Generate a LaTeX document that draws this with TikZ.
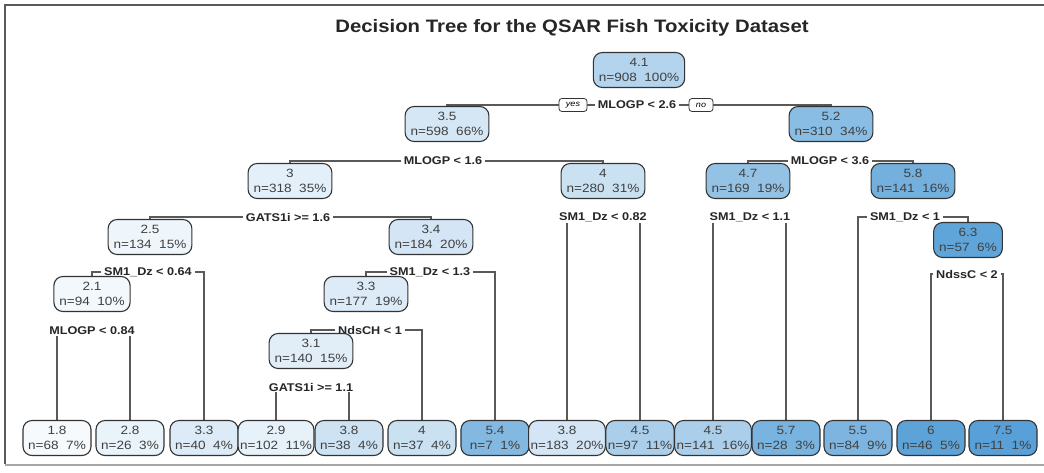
\documentclass[tikz,border=0pt]{standalone}
\usepackage{fontspec}
\setmainfont{Liberation Sans}
\newfontfamily\nfont[FakeStretch=1.13]{Liberation Sans}
\newfontfamily\bfont[FakeStretch=1.13]{Liberation Sans Bold}
\definecolor{tb}{RGB}{88,160,215}
\pgfdeclarelayer{back}
\pgfdeclarelayer{bg}
\pgfsetlayers{back,bg,main}
\tikzset{
  tnode/.style={draw=black!80, line width=1.1pt, rounded corners=9pt, minimum height=35pt,
    inner xsep=5.5pt, inner ysep=2pt, align=center, text=black!75,
    font=\nfont\fontsize{12}{15}\selectfont},
  tn/.style={tnode, fill=tb!#1!white},
  lf/.style={tnode, fill=tb!#1!white, inner xsep=2pt, minimum width=68pt},
  slab/.style={fill=white, inner xsep=3pt, inner ysep=1pt, text=black!85,
    font=\bfont\fontsize{11.2}{13}\selectfont},
  yn/.style={draw=black!80, line width=0.8pt, rounded corners=3pt, fill=white,
    font=\nfont\fontsize{8}{9}\selectfont\itshape, minimum height=13pt, inner ysep=0pt, inner xsep=7pt},
  conn/.style={draw=black!65, line width=1.4pt}
}
\begin{document}
\begin{tikzpicture}[x=1pt,y=-1pt]
\useasboundingbox (0,0) rectangle (1044,472);
\begin{pgfonlayer}{back}
\fill[white] (0,0) rectangle (1044,472);
\end{pgfonlayer}
% frame
\draw[black!65, line width=2.5pt] (1044,5) -- (5,5) -- (5,464);
\draw[black!35, line width=1.5pt] (5,465) -- (1044,465);
% title
\node[font=\bfont\fontsize{18}{20}\selectfont, text=black!85] (title) at (572,28) {Decision Tree for the QSAR Fish Toxicity Dataset};
% inner nodes and split labels
\node[tn=45] (n0) at (639,70) {4.1\\n=908\ \ 100\%};
\node[slab] (s0) at (637,105) {MLOGP < 2.6};
\node[yn] (yes) at (573,105) {yes};
\node[yn] (no) at (701,105) {no};
\node[tn=25] (n1) at (447,124) {3.5\\n=598\ \ 66\%};
\node[tn=70] (n2) at (831,124) {5.2\\n=310\ \ 34\%};
\node[slab] (s1) at (443,161) {MLOGP < 1.6};
\node[slab] (s2) at (830,161) {MLOGP < 3.6};
\node[tn=16] (n3) at (290,181) {3\\n=318\ \ 35\%};
\node[tn=32] (n4) at (603,181) {4\\n=280\ \ 31\%};
\node[tn=64] (n5) at (748,181) {4.7\\n=169\ \ 19\%};
\node[tn=83] (n6) at (913,181) {5.8\\n=141\ \ 16\%};
\node[slab] (s3) at (288,217) {GATS1i >= 1.6};
\node[slab] (s4) at (603,217) {SM1\_Dz < 0.82};
\node[slab] (s5) at (750,217) {SM1\_Dz < 1.1};
\node[slab] (s6) at (905,217) {SM1\_Dz < 1};
\node[tn=10] (n7) at (150,237) {2.5\\n=134\ \ 15\%};
\node[tn=26] (n8) at (431,237) {3.4\\n=184\ \ 20\%};
\node[tn=95] (n9) at (968,240) {6.3\\n=57\ \ 6\%};
\node[slab] (s7) at (148,272) {SM1\_Dz < 0.64};
\node[slab] (s8) at (430,272) {SM1\_Dz < 1.3};
\node[slab] (s9) at (967,274) {NdssC < 2};
\node[tn=7] (n10) at (92,294) {2.1\\n=94\ \ 10\%};
\node[tn=21] (n11) at (366,294) {3.3\\n=177\ \ 19\%};
\node[slab] (s10) at (92,331) {MLOGP < 0.84};
\node[slab] (s11) at (370,330) {NdsCH < 1};
\node[tn=18] (n12) at (311,351) {3.1\\n=140\ \ 15\%};
\node[slab] (s12) at (311,387) {GATS1i >= 1.1};
% leaves
\node[lf=5]   (l1)  at (57,438)   {1.8\\n=68\ \ 7\%};
\node[lf=13]  (l2)  at (130,438)  {2.8\\n=26\ \ 3\%};
\node[lf=21]  (l3)  at (204,438)  {3.3\\n=40\ \ 4\%};
\node[lf=15]  (l4)  at (276,438)  {2.9\\n=102\ \ 11\%};
\node[lf=30]  (l5)  at (349,438)  {3.8\\n=38\ \ 4\%};
\node[lf=32]  (l6)  at (422,438)  {4\\n=37\ \ 4\%};
\node[lf=74]  (l7)  at (495,438)  {5.4\\n=7\ \ 1\%};
\node[lf=26]  (l8)  at (567,438)  {3.8\\n=183\ \ 20\%};
\node[lf=50]  (l9)  at (640,438)  {4.5\\n=97\ \ 11\%};
\node[lf=50]  (l10) at (713,438)  {4.5\\n=141\ \ 16\%};
\node[lf=80]  (l11) at (786,438)  {5.7\\n=28\ \ 3\%};
\node[lf=78]  (l12) at (858,438)  {5.5\\n=84\ \ 9\%};
\node[lf=97]  (l13) at (931,438)  {6\\n=46\ \ 5\%};
\node[lf=100] (l14) at (1003,438) {7.5\\n=11\ \ 1\%};
% connectors
\begin{pgfonlayer}{bg}
\draw[conn] (n1.north) |- (s0.center) -| (n2.north);
\draw[conn] (n3.north) |- (s1.center) -| (n4.north);
\draw[conn] (n5.north) |- (s2.center) -| (n6.north);
\draw[conn] (n7.north) |- (s3.center) -| (n8.north);
\draw[conn] (l8.north) |- (s4.center) -| (l9.north);
\draw[conn] (l10.north) |- (s5.center) -| (l11.north);
\draw[conn] (l12.north) |- (s6.center) -| (n9.north);
\draw[conn] (n10.north) |- (s7.center) -| (l3.north);
\draw[conn] (n11.north) |- (s8.center) -| (l7.north);
\draw[conn] (l13.north) |- (s9.center) -| (l14.north);
\draw[conn] (l1.north) |- (s10.center) -| (l2.north);
\draw[conn] (n12.north) |- (s11.center) -| (l6.north);
\draw[conn] (l4.north) |- (s12.center) -| (l5.north);
\end{pgfonlayer}
\end{tikzpicture}
\end{document}
